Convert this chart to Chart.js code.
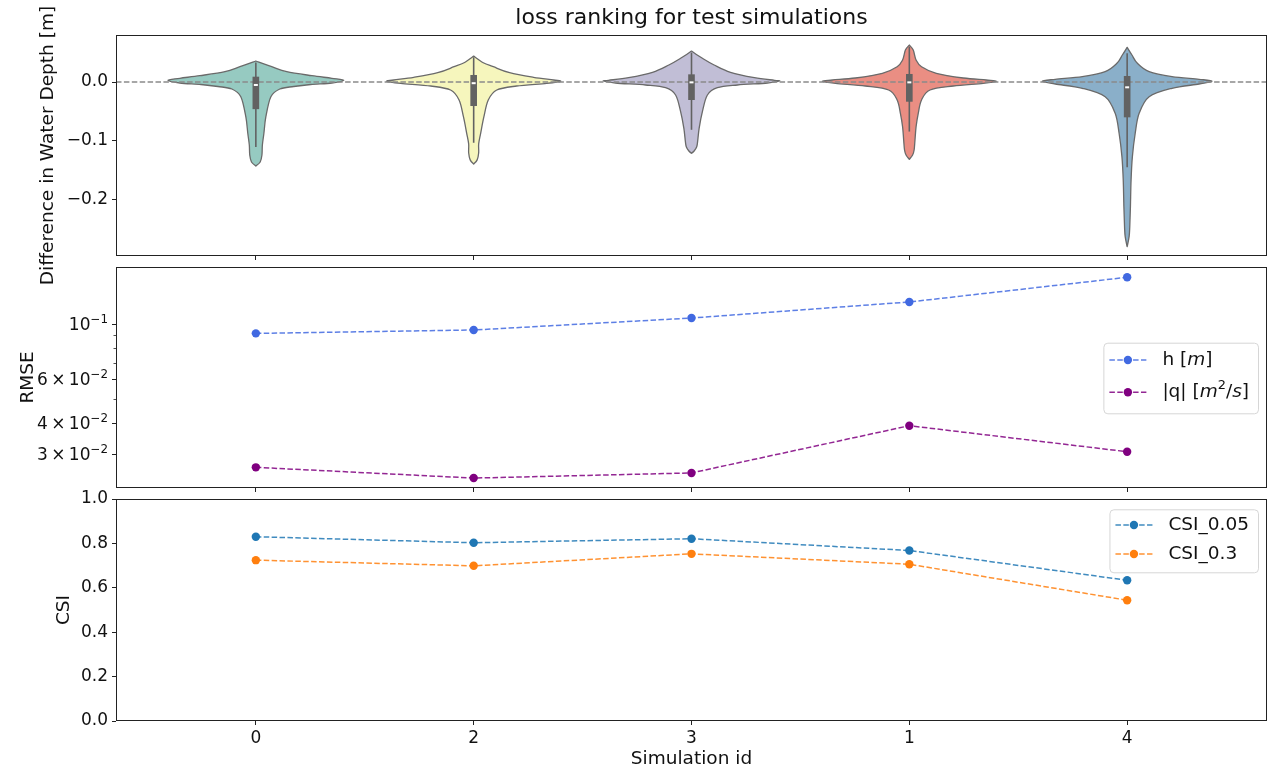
<!DOCTYPE html>
<html><head><meta charset="utf-8">
<script src="https://cdn.jsdelivr.net/npm/chart.js@4.4.1/dist/chart.umd.min.js"></script>
<style>
html,body{margin:0;padding:0;background:#fff;width:1268px;height:772px;overflow:hidden}
.p{position:absolute;left:0;width:1268px}
</style></head><body>
<div class="p" style="top:0;height:300px"><canvas id="c1"></canvas></div>
<div class="p" style="top:262px;height:232px"><canvas id="c2"></canvas></div>
<div class="p" style="top:484px;height:288px"><canvas id="c3"></canvas></div>
<script>
// ---------------- data ----------------
const SIM_IDS = ['0', '2', '3', '1', '4'];
const VIOLIN_COLORS = ['#96cac1', '#f6f6bd', '#c1bed6', '#ea8e83', '#8aafc9'];

// violin outlines: value [m] and half width (in category units)
const VIOLIN_VAL_0 = [0.0356, 0.026, 0.0175, 0.0107, 0.0063, 0.0029, -0.0017, -0.0042, -0.0076, -0.0119, -0.0249, -0.0588, -0.0869, -0.1068, -0.1237, -0.1356, -0.1424];
const VIOLIN_HW_0  = [0, 0.073, 0.142, 0.257, 0.349, 0.404, 0.349, 0.252, 0.174, 0.110, 0.069, 0.046, 0.037, 0.030, 0.028, 0.020, 0];
const VIOLIN_VAL_2 = [0.044, 0.0327, 0.0259, 0.0158, 0.008, 0.0034, 0.0012, -0.0022, -0.0068, -0.0136, -0.0305, -0.0588, -0.0869, -0.105, -0.120, -0.132, -0.139];
const VIOLIN_HW_2  = [0, 0.044, 0.090, 0.165, 0.275, 0.367, 0.399, 0.335, 0.197, 0.106, 0.067, 0.047, 0.032, 0.023, 0.023, 0.016, 0];
const VIOLIN_VAL_3 = [0.0525, 0.0402, 0.0288, 0.0164, 0.0073, 0.0029, 0.0017, -0.0017, -0.0051, -0.0097, -0.022, -0.0503, -0.0785, -0.1012, -0.1097, -0.117, -0.1208];
const VIOLIN_HW_3  = [0, 0.050, 0.104, 0.179, 0.289, 0.381, 0.404, 0.349, 0.211, 0.119, 0.073, 0.050, 0.035, 0.028, 0.024, 0.012, 0];
const VIOLIN_VAL_1 = [0.0627, 0.0542, 0.0373, 0.0259, 0.0147, 0.0068, 0.0034, 0.0012, -0.0022, -0.0068, -0.0136, -0.0305, -0.0531, -0.0758, -0.0983, -0.1153, -0.1237, -0.131];
const VIOLIN_HW_1  = [0, 0.018, 0.031, 0.056, 0.124, 0.248, 0.353, 0.399, 0.339, 0.202, 0.095, 0.056, 0.041, 0.031, 0.026, 0.022, 0.015, 0];
const VIOLIN_VAL_4 = [0.0588, 0.0458, 0.0317, 0.0175, 0.009, 0.0046, 0.0012, -0.0034, -0.0107, -0.0249, -0.0531, -0.0869, -0.1266, -0.1661, -0.2114, -0.2453, -0.2622, -0.2792];
const VIOLIN_HW_4  = [0, 0.022, 0.047, 0.101, 0.206, 0.330, 0.390, 0.330, 0.206, 0.101, 0.055, 0.037, 0.024, 0.018, 0.015, 0.012, 0.009, 0];

// inner box statistics (order of SIM_IDS)
const WHISKER_LOW  = [-0.110, -0.103, -0.081, -0.084, -0.1446];
const BOX_Q1       = [-0.046, -0.0407, -0.0305, -0.0334, -0.0599];
const BOX_MEDIAN   = [-0.005, -0.002, -0.0006, -0.0006, -0.009];
const BOX_Q3       = [0.009, 0.0119, 0.013, 0.0136, 0.0102];
const WHISKER_HIGH = [0.033, 0.042, 0.050, 0.060, 0.0486];
const DIFF_TICKS = [-0.2, -0.1, 0.0];

// RMSE
const H_RMSE = [0.0917, 0.0946, 0.1057, 0.1226, 0.154];
const Q_RMSE = [0.02657, 0.02406, 0.02523, 0.03905, 0.0307];
const RMSE_TICKS = [0.03, 0.04, 0.05, 0.06, 0.07, 0.08, 0.09, 0.1];
const RMSE_TICK_LABELS = ['3\u2009×\u200910^{−2}', '4\u2009×\u200910^{−2}', '', '6\u2009×\u200910^{−2}', '', '', '', '10^{−1}'];

// CSI
const CSI_005 = [0.830, 0.803, 0.821, 0.768, 0.634];
const CSI_03  = [0.7245, 0.699, 0.753, 0.706, 0.544];
const CSI_TICKS = [0, 0.2, 0.4, 0.6, 0.8, 1.0];

// ---------------- helpers ----------------
const FONT = "'DejaVu Sans', sans-serif";
Chart.defaults.font.family = FONT;
Chart.defaults.color = '#111';
const TICK_SIZE = 17;
const TICK_FONT = {size: TICK_SIZE};
const LABEL_FONT = {size: 18.5};
const X_MIN = -0.642, X_MAX = 4.642;

const violins = [
  {val: VIOLIN_VAL_0, hw: VIOLIN_HW_0},
  {val: VIOLIN_VAL_2, hw: VIOLIN_HW_2},
  {val: VIOLIN_VAL_3, hw: VIOLIN_HW_3},
  {val: VIOLIN_VAL_1, hw: VIOLIN_HW_1},
  {val: VIOLIN_VAL_4, hw: VIOLIN_HW_4}
];

function fmt1(v) { const s = (Math.abs(v) < 1e-9 ? 0 : v).toFixed(1); return s.replace('-', '−'); }

function noPad(s) { s.paddingTop = 0; s.paddingBottom = 0; s.paddingLeft = 0; s.paddingRight = 0; }

function xScale(showLabels, axisHeight, title) {
  return {
    type: 'linear', min: X_MIN, max: X_MAX, bounds: 'data',
    afterBuildTicks: s => { s.ticks = SIM_IDS.map((_, i) => ({value: i})); },
    ticks: {display: showLabels, callback: (v, i) => SIM_IDS[i], font: TICK_FONT, padding: 3, autoSkip: false, maxRotation: 0},
    grid: {display: true, drawOnChartArea: false, drawTicks: true, tickLength: 4, tickColor: '#222', tickWidth: 1},
    border: {display: false},
    title: title ? {display: true, text: title, font: LABEL_FONT, padding: {top: 0, bottom: 1.9}} : {display: false},
    afterFit: s => { s.height = axisHeight; noPad(s); }
  };
}

function yCommon(title, titleCenter) {
  return {
    border: {display: false},
    grid: {display: true, drawOnChartArea: false, drawTicks: true, tickLength: 4, tickColor: '#222', tickWidth: 1},
    title: {display: true, text: title, font: LABEL_FONT, padding: {top: titleCenter - 11.1, bottom: 0}},
    afterFit: s => { s.width = 116; noPad(s); }
  };
}

const framePlugin = {
  id: 'frame',
  afterDraw(chart) {
    const {ctx, chartArea: a} = chart;
    ctx.save();
    ctx.strokeStyle = '#222';
    ctx.lineWidth = 1;
    ctx.strokeRect(a.left + 0.5, a.top + 0.5, a.right - a.left - 1, a.bottom - a.top - 1);
    ctx.restore();
  }
};

function sidePath(ctx, pts, first) {
  const n = pts.length;
  if (first) ctx.moveTo(pts[0][0], pts[0][1]); else ctx.lineTo(pts[0][0], pts[0][1]);
  for (let i = 0; i < n - 1; i++) {
    const p0 = pts[Math.max(i - 1, 0)], p1 = pts[i], p2 = pts[i + 1], p3 = pts[Math.min(i + 2, n - 1)];
    ctx.bezierCurveTo(
      p1[0] + (p2[0] - p0[0]) / 6, p1[1] + (p2[1] - p0[1]) / 6,
      p2[0] - (p3[0] - p1[0]) / 6, p2[1] - (p3[1] - p1[1]) / 6,
      p2[0], p2[1]);
  }
}

const violinPlugin = {
  id: 'violins',
  beforeDatasetsDraw(chart) {
    const {ctx, chartArea: a, scales: {x, y}} = chart;
    ctx.save();
    ctx.beginPath(); ctx.rect(a.left, a.top, a.right - a.left, a.bottom - a.top); ctx.clip();
    violins.forEach((vl, i) => {
      const right = vl.val.map((v, k) => [x.getPixelForValue(i + vl.hw[k]), y.getPixelForValue(v)]);
      const left = vl.val.map((v, k) => [x.getPixelForValue(i - vl.hw[k]), y.getPixelForValue(v)]).reverse();
      ctx.beginPath();
      sidePath(ctx, right, true);
      sidePath(ctx, left, false);
      ctx.closePath();
      ctx.fillStyle = VIOLIN_COLORS[i];
      ctx.fill();
      ctx.strokeStyle = '#6a6a6a';
      ctx.lineWidth = 1.3;
      ctx.lineJoin = 'round';
      ctx.stroke();
    });
    // zero reference line
    const y0 = y.getPixelForValue(0);
    ctx.beginPath();
    ctx.setLineDash([5.5, 2.4]);
    ctx.strokeStyle = '#8a8a8a';
    ctx.lineWidth = 1.5;
    ctx.moveTo(a.left, y0); ctx.lineTo(a.right, y0);
    ctx.stroke();
    ctx.setLineDash([]);
    // inner boxes
    SIM_IDS.forEach((_, i) => {
      const cx = x.getPixelForValue(i);
      ctx.beginPath();
      ctx.strokeStyle = '#626262';
      ctx.lineWidth = 1.6;
      ctx.moveTo(cx, y.getPixelForValue(WHISKER_LOW[i]));
      ctx.lineTo(cx, y.getPixelForValue(WHISKER_HIGH[i]));
      ctx.stroke();
      const hw = x.getPixelForValue(i + 0.0152) - cx;
      const yt = y.getPixelForValue(BOX_Q3[i]), yb = y.getPixelForValue(BOX_Q1[i]);
      ctx.fillStyle = '#626262';
      ctx.fillRect(cx - hw, yt, 2 * hw, yb - yt);
      const ym = y.getPixelForValue(BOX_MEDIAN[i]);
      ctx.fillStyle = '#ffffff';
      ctx.fillRect(cx - 2, ym - 1, 4, 2);
    });
    ctx.restore();
  }
};

function drawRich(ctx, text, x, y, size) {
  let inBr = false;
  ctx.textBaseline = 'middle';
  ctx.textAlign = 'left';
  for (const ch of text) {
    if (ch === '²') {
      ctx.font = `${(size * 0.7).toFixed(1)}px ${FONT}`;
      ctx.fillText('2', x, y - size * 0.38);
      x += ctx.measureText('2').width;
      continue;
    }
    const ital = inBr && /[a-z]/i.test(ch);
    ctx.font = `${ital ? 'italic ' : ''}${size}px ${FONT}`;
    ctx.fillText(ch, x, y);
    x += ctx.measureText(ch).width;
    if (ch === '[') inBr = true;
    if (ch === ']') inBr = false;
  }
  return x;
}
function richWidth(ctx, text, size) {
  let w = 0, inBr = false;
  for (const ch of text) {
    if (ch === '²') { ctx.font = `${(size * 0.7).toFixed(1)}px ${FONT}`; w += ctx.measureText('2').width; continue; }
    const ital = inBr && /[a-z]/i.test(ch);
    ctx.font = `${ital ? 'italic ' : ''}${size}px ${FONT}`;
    w += ctx.measureText(ch).width;
    if (ch === '[') inBr = true;
    if (ch === ']') inBr = false;
  }
  return w;
}

// simple math label: "a^{b}" -> superscript b
function mathSegments(str) {
  const segs = [];
  const re = /\^\{([^}]*)\}/g;
  let last = 0, m;
  while ((m = re.exec(str))) {
    if (m.index > last) segs.push({t: str.slice(last, m.index), sup: false});
    segs.push({t: m[1], sup: true});
    last = re.lastIndex;
  }
  if (last < str.length) segs.push({t: str.slice(last), sup: false});
  return segs;
}
function drawMathRight(ctx, str, xRight, yMid, size) {
  const segs = mathSegments(str);
  const supSize = size * 0.7;
  let w = 0;
  segs.forEach(s => { ctx.font = `${s.sup ? supSize : size}px ${FONT}`; s.w = ctx.measureText(s.t).width; w += s.w; });
  let x = xRight - w;
  const base = yMid + size * 0.729 / 2;
  ctx.textBaseline = 'alphabetic';
  ctx.textAlign = 'left';
  segs.forEach(s => {
    ctx.font = `${s.sup ? supSize : size}px ${FONT}`;
    ctx.fillText(s.t, x, s.sup ? base - size * 0.45 : base);
    x += s.w;
  });
}

const boxLegendPlugin = {
  id: 'boxLegend',
  afterDraw(chart, args, opts) {
    const {ctx} = chart;
    const size = 18.5;
    const ds = chart.data.datasets;
    ctx.save();
    const tw = Math.max(...ds.map(d => richWidth(ctx, d.label, size)));
    const w = 6 + 37 + 16 + tw + 9;
    const left = opts.right - w;
    ctx.beginPath();
    ctx.roundRect(left + 0.5, opts.top + 0.5, w, opts.height, 4);
    ctx.fillStyle = 'rgba(255,255,255,0.8)';
    ctx.fill();
    ctx.strokeStyle = '#d6d6d6';
    ctx.lineWidth = 1;
    ctx.stroke();
    ds.forEach((d, k) => {
      const ry = opts.rows[k];
      const lx = left + 6;
      ctx.beginPath();
      ctx.setLineDash([5.5, 2.4]);
      ctx.strokeStyle = d.borderColor;
      ctx.lineWidth = 1.5;
      ctx.moveTo(lx, ry); ctx.lineTo(lx + 37, ry);
      ctx.stroke();
      ctx.setLineDash([]);
      ctx.beginPath();
      ctx.arc(lx + 18.5, ry, 4.2, 0, Math.PI * 2);
      ctx.fillStyle = d.pointBackgroundColor;
      ctx.fill();
      ctx.fillStyle = '#111';
      drawRich(ctx, d.label, lx + 53, ry, size);
    });
    ctx.restore();
  }
};

const logTickPlugin = {
  id: 'logTicks',
  afterDraw(chart) {
    const {ctx, chartArea: a, scales: {y}} = chart;
    ctx.save();
    ctx.strokeStyle = '#222';
    ctx.fillStyle = '#111';
    ctx.lineWidth = 0.8;
    RMSE_TICKS.forEach((v, i) => {
      const py = y.getPixelForValue(v);
      if (RMSE_TICK_LABELS[i]) {
        drawMathRight(ctx, RMSE_TICK_LABELS[i], a.left - 8, py, TICK_SIZE);
      } else {
        const pr = Math.round(py) + 0.5;
        ctx.beginPath(); ctx.moveTo(a.left - 2.5, pr); ctx.lineTo(a.left, pr); ctx.stroke();
      }
    });
    ctx.restore();
  }
};

function lineDs(label, values, color, lineColor) {
  return {
    label, data: values.map((v, i) => ({x: i, y: v})), showLine: true,
    borderColor: lineColor, backgroundColor: color,
    pointBackgroundColor: color, pointBorderColor: color, pointBorderWidth: 0,
    pointRadius: 4.2, borderWidth: 1.5, borderDash: [5.5, 2.4], tension: 0, fill: false
  };
}

const base = {
  responsive: true, maintainAspectRatio: false, animation: false, devicePixelRatio: 1,
  events: []
};

// ---------------- chart 1: violins ----------------
new Chart(document.getElementById('c1'), {
  type: 'scatter',
  data: {datasets: [{data: []}]},
  options: Object.assign({}, base, {
    layout: {autoPadding: false, padding: {left: 0, right: 1, top: 0, bottom: 38}},
    plugins: {legend: {display: false}, tooltip: {enabled: false}, title: {display: false}},
    scales: {
      x: xScale(false, 6),
      xTitle: {
        type: 'linear', position: 'top', min: X_MIN, max: X_MAX, bounds: 'data',
        ticks: {display: false}, grid: {display: false}, border: {display: false},
        title: {display: true, text: 'loss ranking for test simulations', font: {size: 22, lineHeight: 1.2}, padding: {top: 4.8, bottom: 0}},
        afterFit: s => { s.height = 35; noPad(s); }
      },
      y: Object.assign(yCommon('Difference in Water Depth [m]', 48), {
        type: 'linear', min: -0.295, max: 0.0797, bounds: 'data',
        afterBuildTicks: s => { s.ticks = DIFF_TICKS.map(v => ({value: v})); },
        ticks: {callback: v => fmt1(v), font: TICK_FONT, padding: 4}
      })
    }
  }),
  plugins: [violinPlugin, framePlugin]
});

// ---------------- chart 2: RMSE (log) ----------------
new Chart(document.getElementById('c2'), {
  type: 'scatter',
  data: {datasets: [
    lineDs('h [m]', H_RMSE, '#4169e1', 'rgba(65,105,225,0.85)'),
    lineDs('|q| [m²/s]', Q_RMSE, '#800080', 'rgba(128,0,128,0.85)')
  ]},
  options: Object.assign({}, base, {
    layout: {autoPadding: false, padding: {left: 0, right: 1, top: 5, bottom: 0}},
    plugins: {legend: {display: false}, tooltip: {enabled: false}, title: {display: false},
      boxLegend: {right: 1258, top: 80.7, height: 70.6, rows: [98, 130.3]}},
    scales: {
      x: xScale(false, 6),
      y: (() => {
        const c = yCommon('RMSE', 28);
        c.grid.tickColor = ctx => (RMSE_TICK_LABELS[ctx.index] ? '#222' : 'rgba(0,0,0,0)');
        return Object.assign(c, {
          type: 'logarithmic', min: 0.02195, max: 0.1694, bounds: 'data',
          afterBuildTicks: s => { s.ticks = RMSE_TICKS.map(v => ({value: v})); },
          ticks: {display: false, autoSkip: false}
        });
      })()
    }
  }),
  plugins: [framePlugin, boxLegendPlugin, logTickPlugin]
});

// ---------------- chart 3: CSI ----------------
new Chart(document.getElementById('c3'), {
  type: 'scatter',
  data: {datasets: [
    lineDs('CSI_0.05', CSI_005, '#1f77b4', 'rgba(31,119,180,0.85)'),
    lineDs('CSI_0.3', CSI_03, '#ff7f0e', 'rgba(255,127,14,0.85)')
  ]},
  options: Object.assign({}, base, {
    layout: {autoPadding: false, padding: {left: 0, right: 1, top: 15, bottom: 0}},
    plugins: {legend: {display: false}, tooltip: {enabled: false}, title: {display: false},
      boxLegend: {right: 1258, top: 25.3, height: 63, rows: [41, 70]}},
    scales: {
      x: xScale(true, 51, 'Simulation id'),
      y: Object.assign(yCommon('CSI', 64), {
        type: 'linear', min: 0, max: 1, bounds: 'data',
        afterBuildTicks: s => { s.ticks = CSI_TICKS.map(v => ({value: v})); },
        ticks: {callback: v => fmt1(v), font: TICK_FONT, padding: 4}
      })
    }
  }),
  plugins: [framePlugin, boxLegendPlugin]
});
</script>
</body></html>
